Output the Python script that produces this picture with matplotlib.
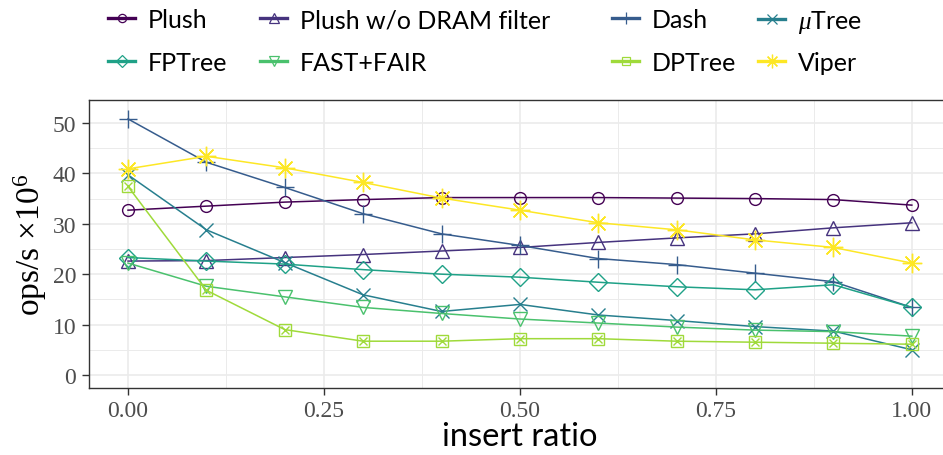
import matplotlib
matplotlib.use('Agg')
import matplotlib.pyplot as plt
from matplotlib.ticker import MultipleLocator

# insert ratio on x, throughput (Mops/s) on y
insert_ratio = [0.0, 0.1, 0.2, 0.3, 0.4, 0.5, 0.6, 0.7, 0.8, 0.9, 1.0]

plush = [32.7, 33.5, 34.3, 34.8, 35.2, 35.2, 35.2, 35.1, 35.0, 34.8, 33.7]
plush_nofilter = [22.6, 22.7, 23.3, 23.9, 24.6, 25.3, 26.3, 27.2, 28.0, 29.2, 30.2]
dash = [50.8, 42.2, 37.2, 32.0, 28.0, 25.7, 23.1, 21.9, 20.2, 18.5, 13.4]
utree = [39.7, 28.8, 22.3, 15.9, 12.6, 14.0, 11.9, 10.8, 9.6, 8.7, 5.0]
fptree = [23.3, 22.6, 22.0, 20.9, 20.0, 19.4, 18.4, 17.5, 16.9, 17.9, 13.4]
fastfair = [22.2, 17.6, 15.5, 13.4, 12.2, 11.1, 10.3, 9.5, 8.9, 8.6, 7.7]
dptree = [37.4, 16.8, 9.0, 6.7, 6.7, 7.2, 7.2, 6.7, 6.5, 6.3, 6.1]
viper = [40.9, 43.4, 41.1, 38.2, 35.1, 32.7, 30.2, 28.8, 26.8, 25.3, 22.2]

names = ['Plush', 'Plush w/o DRAM filter', 'Dash', r'$\mu$Tree',
         'FPTree', 'FAST+FAIR', 'DPTree', 'Viper']
series = [plush, plush_nofilter, dash, utree, fptree, fastfair, dptree, viper]
colors = ['#440154', '#46337E', '#365C8D', '#277F8E',
          '#1FA187', '#4AC16D', '#9FDA3A', '#FDE725']
markers = ['o', '^', '+', 'x', 'D', 'v', 's', (8, 2, 0)]
msizes = [8.5, 10, 13, 10, 9, 10, 9, 14]

SANS = 'Lato'
SERIF = 'Liberation Serif'
plt.rcParams['mathtext.fontset'] = 'custom'
plt.rcParams['mathtext.rm'] = SERIF
plt.rcParams['mathtext.it'] = SERIF + ':italic'

fig, ax = plt.subplots(figsize=(9.43, 4.56), dpi=100)
# panel runs a little past the right edge, as in the original
fig.subplots_adjust(left=0.0942, right=1.0085, top=0.7785, bottom=0.147)

handles = []
for name, ys, c, m, ms in zip(names, series, colors, markers, msizes):
    ax.plot(insert_ratio, ys, color=c, lw=1.1, marker=m, ms=ms,
            mfc='none', mec=c, mew=1.0, zorder=3)
    if m == 's':
        # squared cross: box with an x inside
        ax.plot(insert_ratio, ys, ls='none', marker='x', ms=ms * 0.7,
                mec=c, mew=1.0, zorder=3)
    h, = ax.plot([], [], color=c, lw=2.4, marker=m, ms=ms * 0.7,
                 mfc='none', mec=c, mew=0.9, label=name)
    handles.append(h)

ax.set_xlim(-0.05, 1.05)
ax.set_ylim(-2.58, 54.56)
ax.xaxis.set_major_locator(MultipleLocator(0.25))
ax.xaxis.set_minor_locator(MultipleLocator(0.125))
ax.yaxis.set_major_locator(MultipleLocator(10))
ax.yaxis.set_minor_locator(MultipleLocator(5))
ax.set_xticks([0, 0.25, 0.5, 0.75, 1.0], ['0.00', '0.25', '0.50', '0.75', '1.00'])
ax.grid(which='major', color='#ebebeb', lw=1.2, zorder=0)
ax.grid(which='minor', color='#ebebeb', lw=0.7, zorder=0)
ax.tick_params(which='minor', length=0)
ax.tick_params(which='major', length=5, width=1, color='#333333', pad=4,
               labelcolor='#4d4d4d', labelsize=17)
for lab in ax.get_xticklabels() + ax.get_yticklabels():
    lab.set_family(SERIF)
for sp in ax.spines.values():
    sp.set_color('#333333')
    sp.set_linewidth(1.0)

ax.set_xlabel('insert ratio', family=SANS, fontsize=23.5, labelpad=0)
ax.set_ylabel(r'ops/s $\times$10$^{6}$', family=SERIF, fontsize=24, labelpad=3)

# legend: ggplot fills by row, one legend per column placed by hand
col_x = [108, 260, 612, 758]
col_spacing = [0.78, 0.78, 0.78, 0.62]  # mu row is taller in the last column
for k, x0 in enumerate(col_x):
    idx = [k, k + 4]
    fig.legend([handles[i] for i in idx], [names[i] for i in idx],
               loc='upper left', bbox_to_anchor=(x0 / 943, 0.98),
               frameon=False, prop={'family': SANS, 'size': 18},
               handlelength=1.08, handletextpad=0.52, borderpad=0,
               borderaxespad=0, labelspacing=col_spacing[k])

fig.savefig('out.png', dpi=100)
